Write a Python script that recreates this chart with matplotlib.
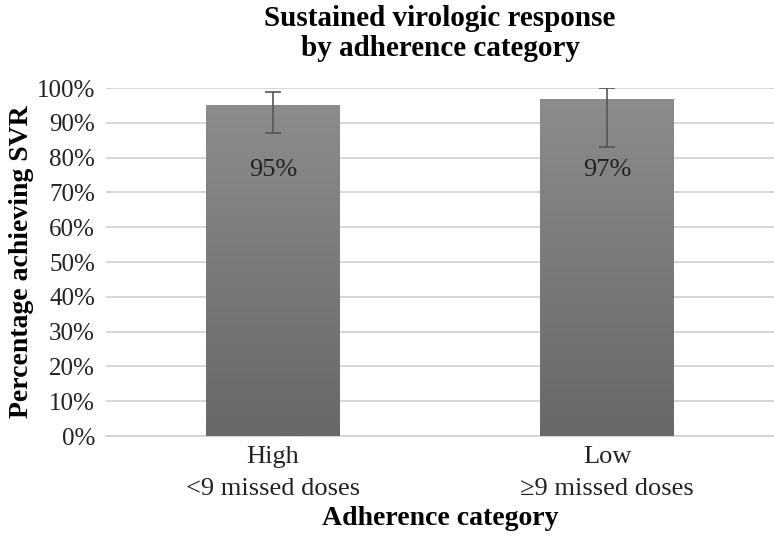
import numpy as np
import matplotlib
matplotlib.use("Agg")
import matplotlib.pyplot as plt

# data
categories = ["High\n<9 missed doses", "Low\n\u22659 missed doses"]
svr_pct = [95, 97]
ci_low = [87, 83]
ci_high = [99, 100]
value_labels = ["95%", "97%"]

plt.rcParams['font.family'] = ['Liberation Serif', 'DejaVu Serif']

fig = plt.figure(figsize=(7.74, 5.37), dpi=100)
ax = fig.add_axes([0.137, 0.188, 0.863, 0.648])

x = np.arange(len(categories))
bars = ax.bar(x, svr_pct, width=0.4, color='#7c7c7c', zorder=2)

# vertical gradient inside each bar (lighter top, darker bottom)
grad = np.linspace(0, 1, 256).reshape(-1, 1)
cmap = matplotlib.colors.LinearSegmentedColormap.from_list('g', ['#686868', '#8c8c8c'])
for b in bars:
    x0, y0 = b.get_x(), b.get_y()
    w, h = b.get_width(), b.get_height()
    im = ax.imshow(grad, extent=[x0, x0 + w, y0, y0 + h], origin='lower',
                   cmap=cmap, aspect='auto', zorder=3)
    im.set_clip_path(b)

yerr = [np.array(svr_pct) - np.array(ci_low), np.array(ci_high) - np.array(svr_pct)]
ax.errorbar(x, svr_pct, yerr=yerr, fmt='none', ecolor='#555555',
            elinewidth=1.2, capsize=6, capthick=1.2, zorder=4)

for xi, lab in zip(x, value_labels):
    ax.text(xi, 76.5, lab, ha='center', va='center', fontsize=19,
            color='#222222', zorder=5)

ax.set_xlim(-0.5, 1.5)
ax.set_ylim(0, 100)
ax.set_yticks(np.arange(0, 101, 10))
ax.set_yticklabels([f"{v}%" for v in range(0, 101, 10)])
ax.set_xticks(x)
ax.set_xticklabels(categories, linespacing=1.6)
ax.tick_params(axis='y', length=0, labelsize=18, colors='#222222', pad=8)
ax.tick_params(axis='x', length=0, labelsize=19, colors='#222222', pad=7)
ax.grid(axis='y', color='#d0d0d0', linewidth=1.2, zorder=0)
ax.set_axisbelow(True)
for s in ['top', 'right', 'left']:
    ax.spines[s].set_visible(False)
ax.spines['bottom'].set_color('#d0d0d0')
ax.spines['bottom'].set_linewidth(1.2)

ax.set_ylabel("Percentage achieving SVR", fontsize=20, fontweight='bold', labelpad=2)
ax.set_xlabel("Adherence category", fontsize=20, fontweight='bold', labelpad=4)
ax.set_title("Sustained virologic response\nby adherence category", fontsize=21,
             fontweight='bold', pad=23, linespacing=1.15)

fig.savefig("out.png", dpi=100)
